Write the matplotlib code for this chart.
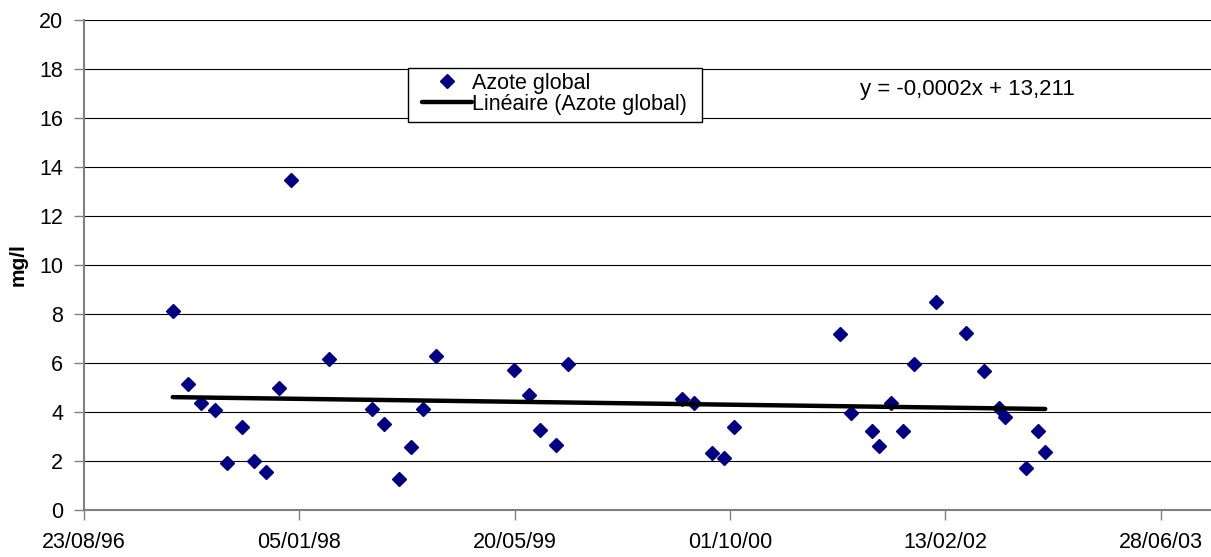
import datetime
import numpy as np
import matplotlib
matplotlib.use("Agg")
import matplotlib.pyplot as plt
from matplotlib.patches import Rectangle
from matplotlib.ticker import FuncFormatter, MultipleLocator, FixedLocator

plt.rcParams['font.family'] = ['Liberation Sans', 'DejaVu Sans']

# sampling dates as Excel serial day numbers (what the trend equation uses)
days = [35506, 35542, 35571, 35605, 35632, 35668, 35695, 35723, 35752, 35780,
        35870, 35969, 35997, 36031, 36059, 36087, 36117,
        36298, 36333, 36360, 36396, 36423,
        36689, 36717, 36759, 36787, 36809,
        37055, 37081, 37130, 37146, 37173, 37202, 37228, 37279,
        37349, 37389, 37425, 37439, 37487, 37515, 37532]
azote = [8.11, 5.14, 4.36, 4.09, 1.93, 3.37, 2.00, 1.57, 4.97, 13.48,
         6.16, 4.11, 3.53, 1.28, 2.56, 4.11, 6.30,
         5.71, 4.70, 3.27, 2.67, 5.96,
         4.53, 4.38, 2.32, 2.11, 3.40,
         7.20, 3.97, 3.24, 2.63, 4.38, 3.23, 5.97, 8.51,
         7.22, 5.68, 4.17, 3.78, 1.70, 3.23, 2.36]

# x axis starts at 23/08/96 (serial 35300), one tick every 500 days
x_ticks = [35300, 35800, 36300, 36800, 37300, 37800]

series_name = "Azote global"
trend_name = "Linéaire (Azote global)"
equation = "y = -0,0002x + 13,211"
y_label = "mg/l"


def excel_date(serial, pos=None):
    d = datetime.date(1899, 12, 30) + datetime.timedelta(days=int(round(serial)))
    return d.strftime("%d/%m/%y")


x = np.array(days, dtype=float)
y = np.array(azote)
slope, icpt = np.polyfit(x, y, 1)
xt = np.array([x.min(), x.max()])

W, H = 1211, 557
fig = plt.figure(figsize=(W / 100, H / 100), dpi=100)
ax = fig.add_axes([84 / W, 47 / H, (W - 84) / W, 490 / H])

pts, = ax.plot(x, y, linestyle='none', marker='D', markersize=7.5,
               markerfacecolor='#000080', markeredgecolor='#000080',
               zorder=3)
trend, = ax.plot(xt, slope * xt + icpt, color='black', linewidth=3.2,
                 solid_capstyle='round', zorder=4)

ax.set_xlim(35300, 37917)
ax.set_ylim(0, 20)
ax.xaxis.set_major_locator(FixedLocator(x_ticks))
ax.xaxis.set_major_formatter(FuncFormatter(excel_date))
ax.yaxis.set_major_locator(MultipleLocator(2))

ax.grid(axis='y', color='black', linewidth=0.8)
ax.set_axisbelow(True)
for s in ['top', 'right']:
    ax.spines[s].set_visible(False)
for s in ['left', 'bottom']:
    ax.spines[s].set_color('#808080')
    ax.spines[s].set_linewidth(1.5)
ax.tick_params(axis='both', direction='out', length=7, width=1,
               color='#808080', labelsize=15.5)
ax.tick_params(axis='y', pad=8)
ax.tick_params(axis='x', pad=9)

fig.text(18 / W, 1 - 265 / H, y_label, rotation=90, fontsize=15,
         fontweight='bold', ha='center', va='center')
fig.text(860 / W, 1 - 90 / H, equation, fontsize=16,
         ha='left', va='center')

# legend box (Excel style: wide side padding, tight top/bottom)
fig.add_artist(Rectangle((408 / W, 1 - 122 / H), 294 / W, 54 / H,
                         transform=fig.transFigure, facecolor='white',
                         edgecolor='black', linewidth=1, zorder=2))
fig.legend([pts, trend], [series_name, trend_name], loc='upper left',
           bbox_to_anchor=(422 / W, 1 - 73 / H),
           bbox_transform=fig.transFigure, borderaxespad=0, borderpad=0,
           fontsize=15.5, frameon=False, handlelength=2.33,
           handletextpad=0.0, labelspacing=-0.02)

fig.savefig("out.png", dpi=100)
